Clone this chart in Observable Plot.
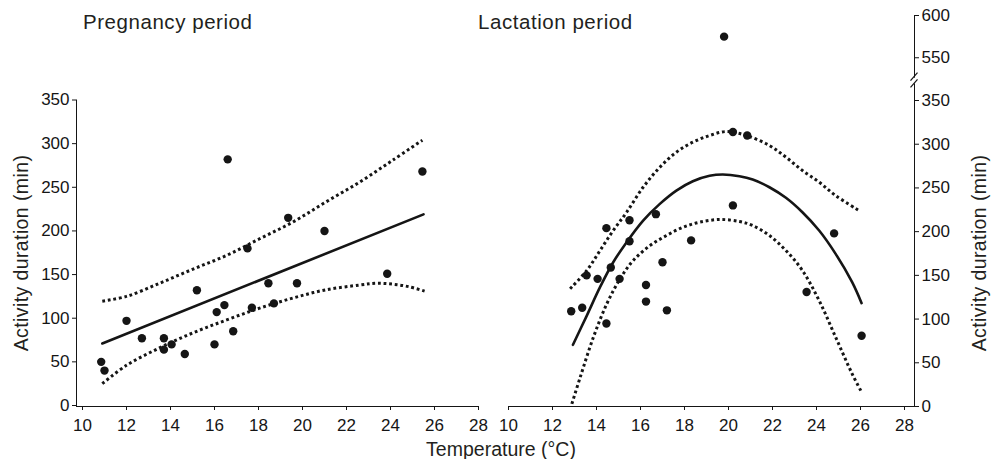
<!DOCTYPE html>
<html>
<head>
<meta charset="utf-8">
<script src="https://cdn.jsdelivr.net/npm/d3@7"></script>
<script src="https://cdn.jsdelivr.net/npm/@observablehq/plot@0.6"></script>
<style>
  html, body { margin: 0; padding: 0; background: #fff; }
  #chart { position: relative; width: 997px; height: 459px; overflow: hidden;
           font-family: "Liberation Sans", Arial, Helvetica, sans-serif; color: #231f20; }
  #chart svg { position: absolute; left: 0; top: 0; }
  .lbl { position: absolute; white-space: nowrap; line-height: 1; }
  .ptitle { font-size: 20.5px; letter-spacing: 0.55px; top: 11.5px; }
  .xtitle { font-size: 19.5px; left: 501px; top: 440px; transform: translateX(-50%); }
  .ytitle { font-size: 19.5px; letter-spacing: 0.4px; top: 253px; transform: translate(-50%, -50%) rotate(-90deg); }
</style>
</head>
<body>
<div id="chart"></div>
<script>
// ---------- data ----------
const panelTitles = ["Pregnancy period", "Lactation period"];
const xTitle = "Temperature (°C)";
const yTitle = "Activity duration (min)";

const xTicks = [10, 12, 14, 16, 18, 20, 22, 24, 26, 28];
const pregYTicks = [0, 50, 100, 150, 200, 250, 300, 350];
const lactYTicksLow = [0, 50, 100, 150, 200, 250, 300, 350];
const lactYTicksHigh = [550, 600];
const lactBreak = [369, 527];

// Pregnancy period observations
const pregTemp = [10.85, 11.0, 12.0, 12.7, 13.7, 13.7, 14.05, 14.65, 15.2, 16.0, 16.1, 16.45, 16.6, 16.85, 17.5, 17.7, 18.45, 18.7, 19.35, 19.75, 21.0, 23.85, 25.45];
const pregDur  = [50, 40, 97, 77, 77, 64, 70, 59, 132, 70, 107, 115, 282, 85, 180, 112, 140, 117, 215, 140, 200, 151, 268];
// Pregnancy fit and confidence band
const pregFitTemp = [10.9, 25.5];
const pregFit     = [71, 219];
const pregUpperTemp = [10.9, 12.0, 13.5, 15.0, 16.55, 18.05, 19.55, 21.05, 22.6, 24.1, 25.45];
const pregUpper     = [119.5, 125, 140, 156, 172, 191, 210, 233, 256, 281, 304];
const pregLowerTemp = [10.9, 12.0, 13.5, 15.0, 16.55, 18.05, 19.55, 21.05, 22.6, 23.35, 24.1, 24.85, 25.55];
const pregLower     = [25, 46, 66, 83, 98, 111.5, 123, 132.5, 138, 140, 139, 136, 131];

// Lactation period observations
const lactTemp = [12.85, 13.35, 13.55, 14.05, 14.45, 14.45, 14.65, 15.05, 15.5, 15.5, 16.25, 16.25, 16.7, 17.0, 17.2, 18.3, 19.8, 20.2, 20.2, 20.85, 23.55, 24.8, 26.05];
const lactDur  = [109, 113, 150, 146, 204, 95, 159, 146, 213, 189, 139, 120, 220, 165, 110, 190, 575, 314, 230, 310, 131, 198, 81];
// Lactation fit and confidence band
const lactFitTemp = [12.93, 13.56, 14.16, 14.76, 15.37, 16.12, 16.88, 17.63, 18.38, 19.14, 19.74, 20.5, 21.1, 21.86, 22.61, 23.36, 24.12, 24.87, 25.62, 26.05];
const lactFit     = [70.6, 104, 136.5, 165, 188, 212.7, 231.8, 247, 257.7, 263.9, 265.4, 263.4, 259.6, 250.8, 238.7, 222.2, 201.3, 174.6, 142.2, 118.2];
const lactUpperTemp = [12.8, 13.56, 14.16, 14.76, 15.37, 16.12, 16.88, 17.63, 18.38, 19.14, 19.9, 20.8, 21.86, 22.61, 23.36, 24.12, 24.87, 25.93];
const lactUpper     = [134.6, 155.6, 178.4, 201.3, 222.2, 250.8, 273.7, 290.9, 302.3, 310, 314.5, 310, 298.5, 285.2, 269.9, 256.6, 241.3, 224.2];
const lactLowerTemp = [12.88, 13.26, 13.86, 14.47, 15.07, 15.67, 16.43, 17.18, 17.93, 18.69, 19.6, 20.5, 21.1, 21.86, 22.61, 23.36, 24.12, 24.87, 25.62, 26.05];
const lactLower     = [3, 33.5, 79.3, 117.5, 146, 167, 184, 195.6, 205, 210.8, 213.9, 211.6, 207, 195.6, 178.4, 155.6, 121.2, 79.3, 37.4, 16.4];

// ---------- helpers ----------
const ink = "#151515";
const rows = (xs, ys) => xs.map((t, i) => ({t, v: ys[i]}));
const style = {fontFamily: '"Liberation Sans", Arial, sans-serif', fontSize: "17px", color: ink, background: "transparent", overflow: "visible"};
const dotted = {x: "t", y: "v", stroke: ink, strokeWidth: 3, strokeDasharray: "2.8,2.8", strokeLinecap: "butt", curve: "catmull-rom"};
const solid = {x: "t", y: "v", stroke: ink, strokeWidth: 2.6, curve: "catmull-rom"};
const dotOpts = {x: "t", y: "v", r: 4.2, fill: ink, stroke: "none"};

// ---------- pregnancy panel ----------
const preg = Plot.plot({
  width: 997, height: 459,
  marginLeft: 76, marginRight: 519, marginTop: 99.5, marginBottom: 53,
  style,
  x: {domain: [10, 28], range: [82, 478], ticks: xTicks, tickSize: 4, tickPadding: 8, line: true, label: null},
  y: {domain: [0, 350], range: [405, 99.5], ticks: pregYTicks, tickSize: 4, tickPadding: 3, line: true, label: null},
  marks: [
    Plot.line(rows(pregUpperTemp, pregUpper), dotted),
    Plot.line(rows(pregLowerTemp, pregLower), dotted),
    Plot.line(rows(pregFitTemp, pregFit), solid),
    Plot.dot(rows(pregTemp, pregDur), dotOpts)
  ]
});

// ---------- lactation panel: broken y axis drawn as two stacked plots ----------
const slash = (value) => (index, scales, values, dims) => {
  const ax = dims.width - dims.marginRight;
  const yy = scales.y(value);
  const g = d3.create("svg:g");
  g.append("line").attr("x1", ax - 3.5).attr("y1", yy + 4).attr("x2", ax + 3.5).attr("y2", yy - 4)
    .attr("stroke", ink).attr("stroke-width", 1.2);
  return g.node();
};

const lactRows = rows(lactTemp, lactDur);

const lactLow = Plot.plot({
  width: 997, height: 459,
  marginLeft: 508, marginRight: 83, marginTop: 83.4, marginBottom: 53,
  style,
  x: {domain: [10, 28], range: [508, 904], ticks: xTicks, tickSize: 4, tickPadding: 8, line: true, label: null},
  y: {domain: [0, lactBreak[0]], range: [406, 83.4], ticks: lactYTicksLow, tickSize: 4, tickPadding: 3, line: true, label: null, axis: "right"},
  marks: [
    Plot.line(rows(lactUpperTemp, lactUpper), dotted),
    Plot.line(rows(lactLowerTemp, lactLower), dotted),
    Plot.line(rows(lactFitTemp, lactFit), solid),
    Plot.dot(lactRows.filter(d => d.v <= lactBreak[0]), dotOpts),
    slash(lactBreak[0])
  ]
});

const lactHigh = Plot.plot({
  width: 997, height: 459,
  marginLeft: 508, marginRight: 83, marginTop: 15, marginBottom: 459 - 76.7,
  style,
  x: {domain: [10, 28], range: [508, 904], axis: null},
  y: {domain: [lactBreak[1], 600], range: [76.7, 15], ticks: lactYTicksHigh, tickSize: 4, tickPadding: 3, line: true, label: null, axis: "right"},
  marks: [
    Plot.dot(lactRows.filter(d => d.v >= lactBreak[1]), dotOpts),
    slash(lactBreak[1])
  ]
});

const chart = document.getElementById("chart");
chart.append(preg, lactLow, lactHigh);

const addLabel = (text, cls, css) => {
  const d = document.createElement("div");
  d.className = "lbl " + cls;
  d.textContent = text;
  Object.assign(d.style, css || {});
  chart.append(d);
};
addLabel(panelTitles[0], "ptitle", {left: "83px"});
addLabel(panelTitles[1], "ptitle", {left: "478px"});
addLabel(xTitle, "xtitle");
addLabel(yTitle, "ytitle", {left: "22px"});
addLabel(yTitle, "ytitle", {left: "980px"});
</script>
</body>
</html>
